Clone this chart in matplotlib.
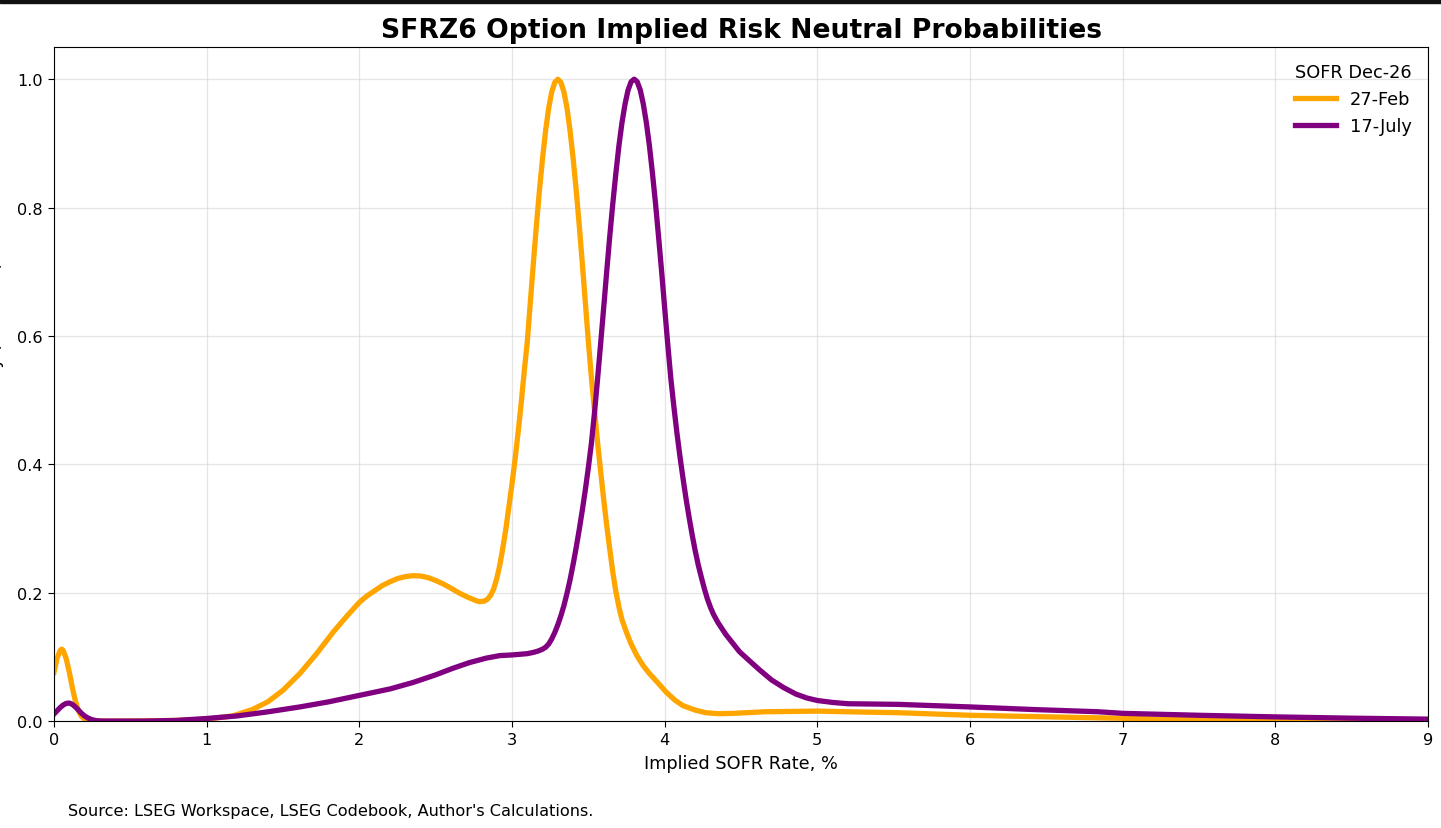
import numpy as np
import matplotlib
matplotlib.use("Agg")
import matplotlib.pyplot as plt
from matplotlib.patches import Rectangle

# values (x = implied SOFR rate %, y = normalized density)
feb_x = [0.0, 0.02, 0.04, 0.05, 0.06, 0.08, 0.10, 0.12, 0.14, 0.16, 0.18, 0.20, 0.23, 0.26,
         0.5, 0.8, 1.0, 1.17, 1.3, 1.4, 1.5, 1.61, 1.72, 1.83, 1.92, 2.0, 2.05, 2.1, 2.15,
         2.2, 2.25, 2.3, 2.35, 2.4, 2.45, 2.5, 2.55, 2.6, 2.65, 2.70, 2.74, 2.77, 2.79, 2.82,
         2.84, 2.86, 2.88, 2.90, 2.92, 2.94, 2.96, 2.98, 3.00, 3.02, 3.04, 3.06, 3.08, 3.10,
         3.12, 3.14, 3.16, 3.18, 3.20, 3.22, 3.24, 3.26, 3.28, 3.30, 3.32, 3.34, 3.36, 3.38,
         3.40, 3.42, 3.44, 3.46, 3.48, 3.50, 3.52, 3.54, 3.56, 3.58, 3.60, 3.62, 3.64, 3.66,
         3.68, 3.70, 3.72, 3.75, 3.78, 3.82, 3.86, 3.90, 3.95, 4.01, 4.07, 4.12, 4.2, 4.27,
         4.35, 4.45, 4.66, 5.0, 5.3, 5.53, 6.0, 6.41, 6.84, 7.3, 8.0, 8.5, 9.0]
feb_y = [0.076, 0.098, 0.11, 0.112, 0.11, 0.097, 0.076, 0.052, 0.031, 0.016, 0.007, 0.003,
         0.001, 0.0, 0.0, 0.001, 0.003, 0.008, 0.018, 0.03, 0.048, 0.074, 0.105, 0.139, 0.164,
         0.185, 0.195, 0.203, 0.211, 0.217, 0.222, 0.225, 0.2265, 0.226, 0.2235, 0.219,
         0.2135, 0.207, 0.2, 0.194, 0.19, 0.187, 0.186, 0.187, 0.19, 0.196, 0.206, 0.222,
         0.243, 0.27, 0.30, 0.335, 0.37, 0.408, 0.45, 0.495, 0.545, 0.591, 0.653, 0.714,
         0.773, 0.828, 0.877, 0.92, 0.955, 0.98, 0.995, 1.0, 0.995, 0.98, 0.955, 0.92, 0.877,
         0.828, 0.773, 0.714, 0.653, 0.591, 0.535, 0.484, 0.435, 0.39, 0.346, 0.305, 0.268,
         0.232, 0.202, 0.178, 0.158, 0.138, 0.12, 0.101, 0.086, 0.074, 0.061, 0.045, 0.032,
         0.024, 0.017, 0.013, 0.0115, 0.012, 0.0145, 0.0155, 0.014, 0.013, 0.009, 0.007,
         0.005, 0.003, 0.002, 0.0015, 0.001]

jul_x = [0.0, 0.02, 0.04, 0.06, 0.08, 0.10, 0.12, 0.14, 0.16, 0.18, 0.20, 0.22, 0.25, 0.28,
         0.32, 0.6, 0.8, 1.0, 1.2, 1.39, 1.61, 1.8, 2.0, 2.2, 2.35, 2.5, 2.61, 2.72, 2.83, 2.92,
         3.0, 3.05, 3.10, 3.14, 3.17, 3.20, 3.22, 3.24, 3.26, 3.28, 3.30, 3.32, 3.34, 3.36,
         3.38, 3.40, 3.42, 3.44, 3.46, 3.48, 3.50, 3.52, 3.54, 3.56, 3.58, 3.60, 3.62, 3.64,
         3.66, 3.68, 3.70, 3.72, 3.74, 3.76, 3.78, 3.80, 3.82, 3.84, 3.86, 3.88, 3.90, 3.92,
         3.94, 3.96, 3.98, 4.00, 4.02, 4.04, 4.06, 4.08, 4.10, 4.12, 4.14, 4.16, 4.18, 4.20,
         4.22, 4.24, 4.26, 4.28, 4.30, 4.32, 4.35, 4.40, 4.45, 4.49, 4.55, 4.62, 4.70, 4.78,
         4.86, 4.93, 5.0, 5.1, 5.2, 5.53, 6.0, 6.41, 6.84, 7.0, 7.5, 8.0, 8.5, 9.0]
jul_y = [0.011, 0.016, 0.021, 0.025, 0.0275, 0.028, 0.026, 0.022, 0.017, 0.012, 0.008, 0.005,
         0.002, 0.0005, 0.0, 0.0, 0.001, 0.004, 0.008, 0.014, 0.022, 0.03, 0.04, 0.05, 0.06,
         0.072, 0.082, 0.091, 0.098, 0.102, 0.103, 0.104, 0.105, 0.107, 0.109, 0.112, 0.115,
         0.12, 0.128, 0.138, 0.15, 0.164, 0.18, 0.199, 0.22, 0.244, 0.27, 0.298, 0.328, 0.36,
         0.395, 0.433, 0.48, 0.532, 0.587, 0.643, 0.70, 0.755, 0.806, 0.853, 0.896, 0.932,
         0.961, 0.983, 0.996, 1.0, 0.996, 0.983, 0.961, 0.932, 0.896, 0.853, 0.806, 0.754,
         0.70, 0.643, 0.587, 0.534, 0.49, 0.449, 0.412, 0.378, 0.346, 0.317, 0.29, 0.265,
         0.243, 0.224, 0.206, 0.19, 0.177, 0.166, 0.153, 0.135, 0.12, 0.108, 0.095, 0.08,
         0.064, 0.052, 0.042, 0.036, 0.032, 0.029, 0.027, 0.026, 0.022, 0.018, 0.0145, 0.012,
         0.009, 0.0065, 0.0045, 0.003]

series_labels = ["27-Feb", "17-July"]
xticks = [0, 1, 2, 3, 4, 5, 6, 7, 8, 9]
yticks = [0.0, 0.2, 0.4, 0.6, 0.8, 1.0]

fig = plt.figure(figsize=(14.41, 8.29), dpi=100)
ax = fig.add_axes([0.0375, 0.129, 0.9535, 0.813])

ax.plot(feb_x, feb_y, color="orange", lw=3.8, label=series_labels[0],
        solid_joinstyle="round")
ax.plot(jul_x, jul_y, color="purple", lw=3.8, label=series_labels[1],
        solid_joinstyle="round")

ax.set_xlim(0, 9)
ax.set_ylim(0, 1.05)
ax.set_xticks(xticks)
ax.set_yticks(yticks)
ax.tick_params(labelsize=11.6, length=4.5)
ax.grid(True, color="#cccccc", alpha=0.5, lw=0.9)

ax.set_title("SFRZ6 Option Implied Risk Neutral Probabilities",
             fontsize=19.2, fontweight="bold", pad=7)
ax.set_xlabel("Implied SOFR Rate, %", fontsize=12.8, labelpad=5)

leg = ax.legend(title="SOFR Dec-26", loc="upper right", frameon=False,
                fontsize=12.8, title_fontsize=12.8, handlelength=2.3)

# y label is cut off at the left edge in the reference
fig.text(-0.0035, 0.522, "Normalized Density (max = 1)", rotation=90,
         ha="center", va="center", fontsize=12.8)

fig.text(0.047, 0.016, "Source: LSEG Workspace, LSEG Codebook, Author's Calculations.",
         fontsize=11.6)

# dark strip at the top of the screenshot
fig.patches.append(Rectangle((0, 0.995), 1, 0.005, transform=fig.transFigure,
                             color="#111111", zorder=10))

fig.savefig("out.png", dpi=100)
